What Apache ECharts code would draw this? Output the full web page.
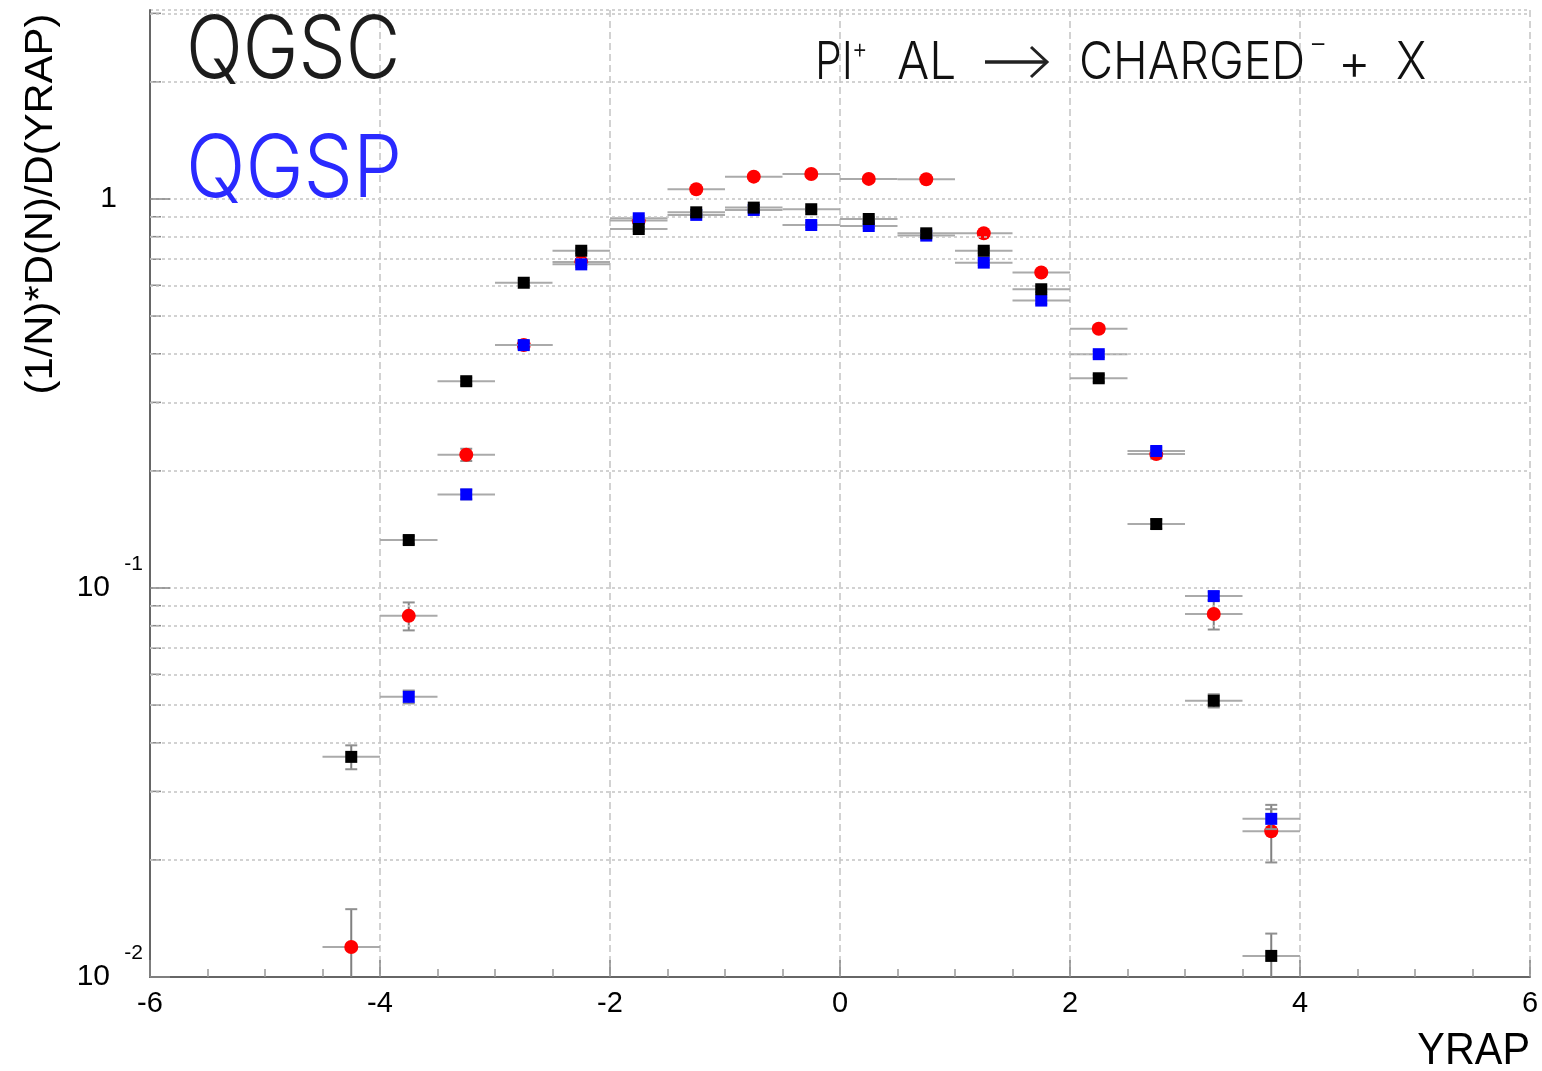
<!DOCTYPE html>
<html>
<head>
<meta charset="utf-8">
<script src="https://cdn.jsdelivr.net/npm/echarts@6/dist/echarts.min.js"></script>
<style>
  html, body { margin: 0; padding: 0; background: #fff; }
  #chart { width: 1542px; height: 1071px; }
</style>
</head>
<body>
<div id="chart"></div>
<script>
// Rapidity bins (centres) and bin half-width
const yrap = [-4.25, -3.75, -3.25, -2.75, -2.25, -1.75, -1.25, -0.75, -0.25,
              0.25, 0.75, 1.25, 1.75, 2.25, 2.75, 3.25, 3.75];
const binHalfWidth = 0.25;

// Measured spectrum (red circles)
const measured    = [0.01194, 0.0848, 0.220, 0.421, 0.689, 0.880, 1.059, 1.141, 1.159,
                     1.126, 1.124, 0.816, 0.647, 0.464, 0.221, 0.0857, 0.0237];
const measuredErr = [0.0030, 0.0070, 0.008, 0.010, 0.012, 0.012, 0.013, 0.013, 0.013,
                     0.013, 0.013, 0.011, 0.010, 0.009, 0.006, 0.0075, 0.0040];

// QGSC model (black squares)
const qgsc    = [0.0368, 0.1328, 0.340, 0.609, 0.736, 0.837, 0.924, 0.950, 0.941,
                 0.888, 0.816, 0.736, 0.586, 0.346, 0.146, 0.0513, 0.01133];
const qgscErr = [0.0026, 0.0030, 0.007, 0.009, 0.010, 0.010, 0.010, 0.010, 0.010,
                 0.010, 0.010, 0.010, 0.010, 0.007, 0.004, 0.0020, 0.0016];

// QGSP model (blue squares); no entry in the first bin
const qgsp    = [null, 0.0525, 0.174, 0.421, 0.679, 0.892, 0.910, 0.937, 0.857,
                 0.852, 0.805, 0.686, 0.548, 0.399, 0.225, 0.0953, 0.0255];
const qgspErr = [null, 0.0020, 0.005, 0.009, 0.010, 0.010, 0.010, 0.010, 0.010,
                 0.010, 0.010, 0.010, 0.010, 0.007, 0.005, 0.0025, 0.0015];

// Axis ranges and minor log grid positions
const xMin = -6, xMax = 6, xStep = 2;
const yMin = 0.01, yMax = 3.06;
const minorGridValues = [0.02, 0.03, 0.04, 0.05, 0.06, 0.07, 0.08, 0.09,
                         0.2, 0.3, 0.4, 0.5, 0.6, 0.7, 0.8, 0.9, 2, 3];

const FONT = '"Liberation Sans", Arial, sans-serif';
const LIGHT = 'Inter, "Liberation Sans", sans-serif';

function points(values, errs) {
  const out = [];
  yrap.forEach((x, i) => {
    if (values[i] != null) out.push([x, values[i], errs[i]]);
  });
  return out;
}

function errorSeries(values, errs, z) {
  return {
    type: 'custom',
    z: z,
    clip: true,
    silent: true,
    data: points(values, errs),
    encode: { x: 0, y: 1 },
    renderItem: function (params, api) {
      const x = api.value(0), y = api.value(1), e = api.value(2);
      const c = api.coord([x, y]);
      const l = api.coord([x - binHalfWidth, y]);
      const r = api.coord([x + binHalfWidth, y]);
      const t = api.coord([x, y + e]);
      const b = api.coord([x, y - e > 0 ? y - e : 1e-4]);
      const cap = 6;
      return {
        type: 'group',
        children: [
          { type: 'line', shape: { x1: l[0], y1: c[1], x2: r[0], y2: c[1] },
            style: { stroke: '#aaaaaa', lineWidth: 2 } },
          { type: 'line', shape: { x1: c[0], y1: t[1], x2: c[0], y2: b[1] },
            style: { stroke: '#808080', lineWidth: 2 } },
          { type: 'line', shape: { x1: c[0] - cap, y1: t[1], x2: c[0] + cap, y2: t[1] },
            style: { stroke: '#909090', lineWidth: 2 } },
          { type: 'line', shape: { x1: c[0] - cap, y1: b[1], x2: c[0] + cap, y2: b[1] },
            style: { stroke: '#909090', lineWidth: 2 } }
        ]
      };
    }
  };
}

function markerSeries(name, values, errs, symbol, size, color, z) {
  return {
    name: name,
    type: 'scatter',
    z: z,
    symbol: symbol,
    symbolSize: size,
    itemStyle: { color: color, opacity: 1 },
    data: points(values, errs).map(p => [p[0], p[1]])
  };
}

// Powers of ten drawn as "10" with a raised exponent
function yLabel(v) {
  const e = Math.round(Math.log10(v));
  if (Math.abs(Math.log10(v) - e) > 1e-6) return '';
  if (e === 0) return '{one|1}';
  return '{e|' + e + '}\n{b|10}\n{p| }';
}

function txt(text, x, y, size, opts) {
  opts = opts || {};
  return {
    type: 'text', x: x, y: y, z: 10,
    scaleX: opts.scaleX || 1,
    rotation: opts.rotation || 0,
    style: {
      text: text, fontSize: size, fontFamily: opts.family || FONT,
      fontWeight: opts.weight || 'normal', fill: opts.color || '#111',
      align: opts.align || 'left', verticalAlign: 'middle',
      textAlign: opts.align || 'left', textVerticalAlign: 'middle'
    }
  };
}

const chart = echarts.init(document.getElementById('chart'), null, { renderer: 'canvas' });

const gridLineStyle = { color: '#c4c4c4', width: 1.5, type: [3, 3] };

chart.setOption({
  animation: false,
  backgroundColor: '#ffffff',
  grid: { left: 150, right: 12, top: 10, bottom: 94, show: false },
  xAxis: {
    type: 'value',
    min: xMin, max: xMax, interval: xStep,
    axisLine: { show: true, onZero: false, lineStyle: { color: '#666', width: 2 } },
    axisTick: { show: true, inside: true, length: 17, lineStyle: { color: '#888', width: 1.5 } },
    minorTick: { show: true, splitNumber: 4, length: 8, lineStyle: { color: '#999', width: 1.5 } },
    splitLine: { show: true, lineStyle: { color: '#d2d2d2', width: 2, type: [7, 4] } },
    axisLabel: { color: '#000', fontSize: 29, fontFamily: FONT, margin: 12 }
  },
  yAxis: {
    type: 'log', logBase: 10,
    min: yMin, max: yMax,
    axisLine: { show: true, onZero: false, lineStyle: { color: '#666', width: 2 } },
    axisTick: { show: true, inside: true, length: 20, lineStyle: { color: '#888', width: 1.5 } },
    splitLine: { show: true, lineStyle: gridLineStyle },
    axisLabel: {
      showMaxLabel: false,
      margin: 7,
      formatter: yLabel,
      rich: {
        one: { fontSize: 30, lineHeight: 30, fontFamily: FONT, color: '#000', padding: [0, 26, 0, 0] },
        b: { fontSize: 30, lineHeight: 26, fontFamily: FONT, color: '#000', padding: [0, 33, 0, 0] },
        e: { fontSize: 21, lineHeight: 22, fontFamily: FONT, color: '#000' },
        p: { fontSize: 21, lineHeight: 22, fontFamily: FONT, color: '#000' }
      }
    }
  },
  series: [
    {
      // minor log ticks on the left axis and the matching dotted grid lines
      type: 'custom',
      z: 1,
      silent: true,
      data: minorGridValues.map(v => [xMin, v]),
      encode: { x: 0, y: 1 },
      renderItem: function (params, api) {
        const p = api.coord([api.value(0), api.value(1)]);
        return { type: 'line', shape: { x1: p[0], y1: p[1], x2: p[0] + 11, y2: p[1] },
                 style: { stroke: '#888', lineWidth: 1.5 } };
      },
      markLine: {
        silent: true, symbol: 'none', label: { show: false },
        lineStyle: gridLineStyle,
        data: minorGridValues.map(v => ({ yAxis: v }))
      }
    },
    errorSeries(measured, measuredErr, 2),
    markerSeries('measured', measured, measuredErr, 'circle', 14, '#ff0000', 3),
    errorSeries(qgsp, qgspErr, 4),
    markerSeries('QGSP', qgsp, qgspErr, 'rect', 12, '#0000ff', 5),
    errorSeries(qgsc, qgscErr, 6),
    markerSeries('QGSC', qgsc, qgscErr, 'rect', 12, '#000000', 7)
  ],
  graphic: [
    // model names
    txt('QGSC', 186, 52, 86, { scaleX: 0.87, family: LIGHT, weight: 300, color: '#1c1c1c' }),
    txt('QGSP', 186, 171, 86, { scaleX: 0.91, family: LIGHT, weight: 300, color: '#2a2aff' }),
    // reaction label
    txt('PI', 815, 63, 52, { scaleX: 0.82, family: LIGHT, weight: 300 }),
    txt('+', 852, 50, 28, { scaleX: 0.85, family: LIGHT, weight: 300 }),
    txt('AL', 897, 63, 52, { scaleX: 0.92, family: LIGHT, weight: 300 }),
    { type: 'line', z: 10, shape: { x1: 985, y1: 62, x2: 1046, y2: 62 },
      style: { stroke: '#222', lineWidth: 3.5 } },
    { type: 'polyline', z: 10, shape: { points: [[1031, 47], [1047, 62], [1031, 77]] },
      style: { stroke: '#222', lineWidth: 3, fill: null } },
    txt('CHARGED', 1079, 63, 52, { scaleX: 0.9, family: LIGHT, weight: 300 }),
    txt('\u2212', 1309, 44, 28, { family: LIGHT, weight: 300 }),
    txt('+', 1338, 65, 50, { family: LIGHT, weight: 300 }),
    txt('X', 1396, 63, 52, { scaleX: 0.88, family: LIGHT, weight: 300 }),
    // axis titles
    txt('(1/N)*D(N)/D(YRAP)', 42, 204, 38, { rotation: Math.PI / 2, scaleX: 1.1, align: 'center', color: '#000' }),
    txt('YRAP', 1530, 1052, 44, { scaleX: 0.94, align: 'right', color: '#000' })
  ]
});
</script>
</body>
</html>
